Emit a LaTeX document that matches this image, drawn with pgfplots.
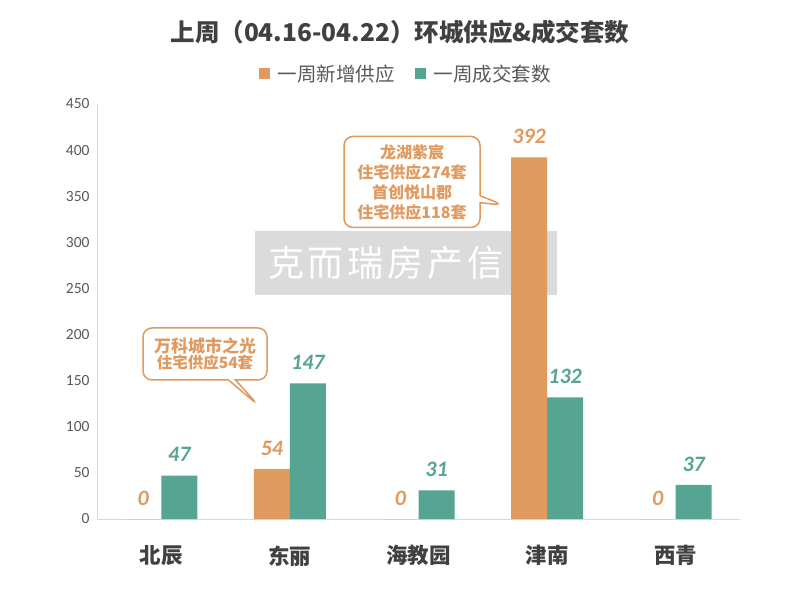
\documentclass[border=0pt]{standalone}
\usepackage{fontspec}
\usepackage{pgfplots}
\pgfplotsset{compat=1.18}
\usetikzlibrary{shapes.callouts}
\setmainfont{Carlito}
\newfontfamily\cjk{Noto Sans CJK SC}
\definecolor{orangeA}{HTML}{E0995E}
\definecolor{tealA}{HTML}{56A593}
\definecolor{txt}{HTML}{404040}
\definecolor{tickc}{HTML}{595959}
\begin{document}
\begin{tikzpicture}[x=1pt,y=1pt]
\path[use as bounding box] (0,0) rectangle (800,600);
\fill[white] (0,0) rectangle (800,600);
\fill[gray!28] (255,305) rectangle (557,369);
\node[text=white, font=\cjk\fontsize{36}{36}\selectfont] at (386,337) {克\hspace{4pt}而\hspace{4pt}瑞\hspace{4pt}房\hspace{4pt}产\hspace{4pt}信};
\node[text=txt, font=\cjk\bfseries\fontsize{24.5}{24.5}\selectfont] at (400,568) {上周（04.16-04.22）环城供应\&成交套数};
\begin{axis}[at={(97pt,81pt)}, anchor=south west, scale only axis, width=643pt, height=415pt,
 ybar=0pt, bar width=36pt, xmin=-0.5, xmax=4.5, ymin=0, ymax=450,
 ytick={0,50,...,450}, xtick={0,...,4}, xticklabels={北辰,东丽,海教园,津南,西青},
 axis x line*=bottom, axis y line*=left, axis line style={draw=gray!30, -, line width=0.8pt},
 major tick length=0pt, clip=false,
 x tick label style={font=\cjk\bfseries\fontsize{21.5}{21.5}\selectfont, text=txt, yshift=-23pt},
 y tick label style={font=\fontsize{15.5}{15.5}\selectfont, text=tickc, xshift=-4pt},
 /pgf/number format/assume math mode=true,
 nodes near coords,
 nodes near coords style={font=\bfseries\itshape\fontsize{22}{22}\selectfont, anchor=center, yshift=21pt},
 legend columns=2,
 legend style={draw=none, at={(0.48,1.073)}, anchor=center, font=\cjk\fontsize{19.5}{19.5}\selectfont, text=tickc,
   /tikz/every even column/.append style={column sep=18pt}},
 legend image code/.code={\fill[#1] (0pt,-5.5pt) rectangle (11pt,5.5pt); \path (17pt,0pt);},
]
\addplot[fill=orangeA, draw=none, every node near coord/.append style={text=orangeA}] coordinates {(0,0) (1,54) (2,0) (3,392) (4,0)};
\addlegendentry{一周新增供应}
\addplot[fill=tealA, draw=none, every node near coord/.append style={text=tealA}] coordinates {(0,47) (1,147) (2,31) (3,132) (4,37)};
\addlegendentry{一周成交套数}
\end{axis}
\node[rectangle callout, draw=orangeA, line width=1.5pt, rounded corners=9pt, fill=white,
  minimum width=124pt, minimum height=52pt, callout absolute pointer={(258,195)},
  align=center, text=orangeA, inner sep=2pt] at (205,246)
  {{\cjk\bfseries\fontsize{17}{19}\selectfont 万科城市之光}\\[-1pt]{\cjk\bfseries\fontsize{15.5}{18}\selectfont 住宅供应54套}};
\node[rectangle callout, draw=orangeA, line width=1.5pt, rounded corners=9pt, fill=white,
  minimum width=136pt, minimum height=91pt, callout absolute pointer={(503,395)},
  align=center, text=orangeA, inner sep=2pt, font=\cjk\bfseries\fontsize{16}{20}\selectfont] at (412,418)
  {龙湖紫宸\\住宅供应274套\\首创悦山郡\\住宅供应118套};
\end{tikzpicture}
\end{document}
